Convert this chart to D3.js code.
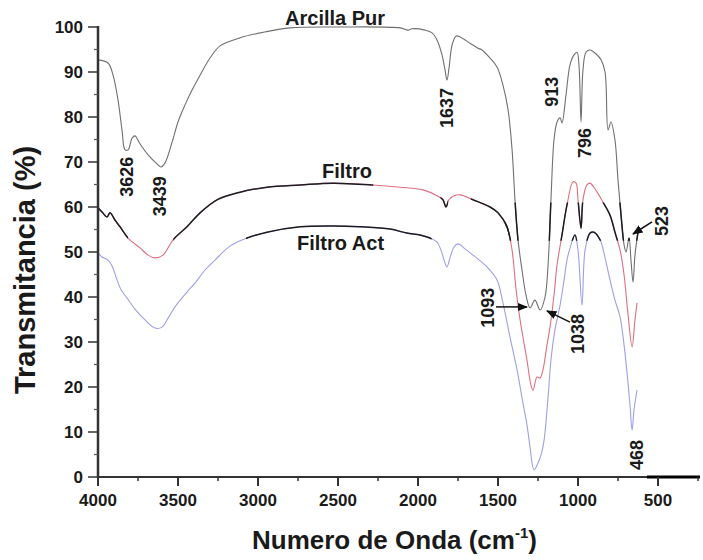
<!DOCTYPE html>
<html>
<head>
<meta charset="utf-8">
<script src="https://cdn.jsdelivr.net/npm/d3@7/dist/d3.min.js"></script>
<style>
body { margin: 0; background: #fff; }
text { font-family: "Liberation Sans", Arial, sans-serif; font-weight: bold; fill: #1a1a1a; }
</style>
</head>
<body>
<svg id="chart" width="703" height="560"></svg>
<script>
// Arcilla Pur (gray)
var arcillaWn = [4000,3937,3906,3875,3850,3831,3812,3787,3769,3737,3687,3631,3606,3581,3537,3500,3456,3412,3362,3300,3237,3112,2956,2800,2487,2112,2062,2037,1956,1912,1881,1850,1831,1819,1806,1787,1762,1737,1675,1625,1600,1550,1506,1469,1437,1412,1394,1375,1350,1325,1300,1269,1237,1206,1187,1169,1150,1131,1112,1100,1075,1050,1025,1006,994,981,969,950,925,887,856,831,812,794,769,750,731,712,700,681,669,656,644,625];
var arcillaT  = [92.7,92.0,89.3,83.8,77.1,72.7,72.7,75.3,75.8,74.0,71.6,69.6,68.9,69.8,74.4,78.9,82.7,86.0,89.3,93.1,95.8,97.6,98.9,99.8,100,99.8,99.3,99.6,99.3,98.7,97.1,93.8,90.4,88.2,90.9,96.0,98.0,97.8,96.4,95.3,94.9,93.1,91.1,87.1,81.6,72.7,61.6,52.7,46.0,40.4,37.6,39.3,37.1,40.0,47.1,61.6,74.9,78.9,79.8,78.7,84.9,91.6,93.8,94.4,91.6,78.9,90.4,94.4,94.9,94.0,92.7,90.0,77.1,78.9,74.9,66.0,58.2,51.6,50.0,53.1,48.2,43.3,49.3,54.4];

// Filtro (red)
var filtroWn = [4000,3975,3944,3925,3894,3862,3812,3737,3687,3644,3594,3531,3444,3362,3256,3112,2944,2737,2531,2281,2112,1969,1875,1844,1825,1806,1781,1737,1656,1550,1500,1444,1412,1387,1362,1319,1294,1281,1256,1237,1219,1194,1175,1150,1131,1100,1069,1031,1012,1000,981,969,944,925,881,844,800,769,737,712,687,662,644,631];
var filtroT  = [59.8,58.9,57.8,58.7,57.1,55.6,53.1,50.9,49.3,48.7,49.3,52.7,55.6,58.7,61.6,63.3,64.4,64.9,65.3,64.9,64.4,63.8,62.4,61.6,60.0,61.6,62.4,62.7,61.6,60.0,58.7,55.6,50.4,41.6,34.9,26.0,20.4,19.3,22.2,22.0,23.8,29.3,33.3,40.4,47.1,53.8,60.4,65.6,65.3,61.6,55.3,61.6,64.9,65.3,63.3,61.1,58.2,54.4,50.4,44.9,36.0,28.9,34.9,38.7];

// Filtro Act (blue)
var actWn = [4000,3975,3937,3912,3887,3856,3819,3769,3706,3644,3600,3562,3519,3444,3394,3331,3269,3175,3069,2944,2737,2531,2362,2175,2069,1987,1925,1881,1856,1837,1819,1800,1775,1750,1706,1656,1569,1506,1469,1425,1381,1344,1319,1300,1275,1250,1231,1212,1187,1169,1144,1112,1087,1069,1044,1019,1000,975,956,925,900,862,831,800,769,737,712,694,675,662,650,631];
var actT  = [49.8,48.9,48.2,46.9,44.4,41.6,39.8,37.3,34.9,33.1,33.3,35.3,37.8,41.1,43.1,46.0,48.2,51.3,53.1,54.4,55.6,55.8,55.6,55.1,54.2,53.8,53.1,52.2,50.4,48.2,46.7,48.7,51.1,51.8,50.7,49.3,46.7,43.8,38.7,31.1,23.8,16.4,11.6,6.7,1.6,3.1,4.9,8.2,17.8,26.0,32.7,38.2,43.8,48.2,51.6,53.8,50.4,38.2,50.4,54.2,54.4,52.7,48.7,43.8,39.3,35.6,29.3,23.3,16.0,10.4,14.9,19.3];

var xTicks = [4000,3500,3000,2500,2000,1500,1000,500];
var yTicks = [0,10,20,30,40,50,60,70,80,90,100];
var peakLabels = ["3626","3439","1637","913","796","523","1093","1038","468"];

var svg = d3.select("#chart");

var x = d3.scaleLinear().domain([4000, 237.5]).range([98, 700]);
var y = d3.scaleLinear().domain([0, 100]).range([477, 27]);

function pts(wn, t) {
    return wn.map(function(w, i) { return [w, t[i]]; });
}

var line = d3.line()
    .x(function(d) { return x(d[0]); })
    .y(function(d) { return y(d[1]); })
    .curve(d3.curveCatmullRom.alpha(0.5));

var series = [
    { name: "arcilla", data: pts(arcillaWn, arcillaT), color: "#707070" },
    { name: "filtro", data: pts(filtroWn, filtroT), color: "#df6f80" },
    { name: "act", data: pts(actWn, actT), color: "#9d9fe8" }
];

// zones where the scanned curves appear dark: [wnFrom, wnTo, tLow, tHigh]
var darkZones = {
    arcilla: [[1456, 612, 52.5, 61]],
    filtro: [[4000, 3812, 0, 100], [3530, 2280, 0, 100], [1860, 1812, 0, 100], [1670, 1430, 0, 100], [1456, 612, 52.5, 61]],
    act: [[3075, 1915, 0, 100], [1456, 612, 52.5, 61]]
};

var defs = svg.append("defs");
defs.append("marker")
    .attr("id", "arrow")
    .attr("viewBox", "0 0 10 10")
    .attr("refX", 9).attr("refY", 5)
    .attr("markerWidth", 7).attr("markerHeight", 7)
    .attr("orient", "auto")
    .append("path")
    .attr("d", "M0,1 L10,5 L0,9 Z")
    .attr("fill", "#111");

series.forEach(function(s) {
    svg.append("path")
        .datum(s.data)
        .attr("fill", "none")
        .attr("stroke", s.color)
        .attr("stroke-width", 1.1)
        .attr("d", line);

    darkZones[s.name].forEach(function(z, i) {
        var id = "clip-" + s.name + "-" + i;
        defs.append("clipPath").attr("id", id)
            .append("rect")
            .attr("x", x(z[0]))
            .attr("y", y(z[3]))
            .attr("width", x(z[1]) - x(z[0]))
            .attr("height", y(z[2]) - y(z[3]));
        svg.append("path")
            .datum(s.data)
            .attr("fill", "none")
            .attr("stroke", "#1c1c24")
            .attr("stroke-width", 1.5)
            .attr("clip-path", "url(#" + id + ")")
            .attr("d", line);
    });
});

// axes
var xAxis = svg.append("g").attr("transform", "translate(0," + y(0) + ")");
xAxis.append("line").attr("x1", x(4000)).attr("x2", 700)
    .attr("stroke", "#333").attr("stroke-width", 2);
xAxis.append("line").attr("x1", 647).attr("x2", 700)
    .attr("stroke", "#000").attr("stroke-width", 3);
xAxis.selectAll(".minor").data(d3.range(3750, 200, -500)).enter()
    .append("line").attr("x1", x).attr("x2", x)
    .attr("y1", 0).attr("y2", 4).attr("stroke", "#333").attr("stroke-width", 1.5);
xAxis.selectAll(".major").data(xTicks).enter()
    .append("line").attr("x1", x).attr("x2", x)
    .attr("y1", 0).attr("y2", 9).attr("stroke", "#333").attr("stroke-width", 2);
xAxis.selectAll(".lbl").data(xTicks).enter()
    .append("text")
    .attr("x", x).attr("y", 29)
    .attr("text-anchor", "middle")
    .attr("font-size", 17)
    .text(function(d) { return d; });

var yAxis = svg.append("g").attr("transform", "translate(" + x(4000) + ",0)");
yAxis.append("line").attr("y1", y(0) + 1).attr("y2", y(100) - 1)
    .attr("stroke", "#333").attr("stroke-width", 2.5);
yAxis.selectAll(".minor").data(d3.range(5, 100, 10)).enter()
    .append("line").attr("y1", y).attr("y2", y)
    .attr("x1", -4).attr("x2", 0).attr("stroke", "#555").attr("stroke-width", 1.2);
yAxis.selectAll(".major").data(yTicks).enter()
    .append("line").attr("y1", y).attr("y2", y)
    .attr("x1", -10).attr("x2", 0).attr("stroke", "#333").attr("stroke-width", 1.5);
yAxis.selectAll(".lbl").data(yTicks).enter()
    .append("text")
    .attr("x", -15).attr("y", function(d) { return y(d) + 6; })
    .attr("text-anchor", "end")
    .attr("font-size", 17)
    .text(function(d) { return d; });

// axis titles
svg.append("text")
    .attr("transform", "translate(35,270) rotate(-90)")
    .attr("text-anchor", "middle")
    .attr("font-size", 29)
    .attr("fill", "#000")
    .text("Transmitancia (%)");

var xt = svg.append("text")
    .attr("x", 252).attr("y", 549)
    .attr("font-size", 26)
    .attr("fill", "#000");
xt.append("tspan").text("Numero de Onda (cm");
xt.append("tspan").attr("font-size", 15).attr("dy", -11).text("-1");
xt.append("tspan").attr("dy", 11).text(")");

// series names
var names = [["Arcilla Pur", 2831, 100.4], ["Filtro", 2600, 66.4], ["Filtro Act", 2756, 50.4]];
names.forEach(function(n) {
    svg.append("text")
        .attr("x", x(n[1])).attr("y", y(n[2]))
        .attr("font-size", 20)
        .text(n[0]);
});

// peak annotations (label, wavenumber, transmittance of label centre)
var peakPos = [[3819, 66.7], [3612, 62.4], [1819, 82.0], [1162, 85.6], [956, 74.2], [475, 56.9], [1563, 37.6], [1000, 31.8], [631, 4.9]];
peakLabels.forEach(function(lbl, i) {
    var p = peakPos[i];
    svg.append("text")
        .attr("transform", "translate(" + x(p[0]) + "," + y(p[1]) + ") rotate(-90)")
        .attr("text-anchor", "middle")
        .attr("dy", "0.35em")
        .attr("font-size", 18)
        .attr("fill", "#000")
        .text(lbl);
});

var arrows = [[537.5, 56.7, 656, 54.0], [1512.5, 37.8, 1319, 37.8], [1050, 34.4, 1194, 36.9]];
arrows.forEach(function(a) {
    svg.append("line")
        .attr("x1", x(a[0])).attr("y1", y(a[1]))
        .attr("x2", x(a[2])).attr("y2", y(a[3]))
        .attr("stroke", "#111").attr("stroke-width", 1.5)
        .attr("marker-end", "url(#arrow)");
});
</script>
</body>
</html>
